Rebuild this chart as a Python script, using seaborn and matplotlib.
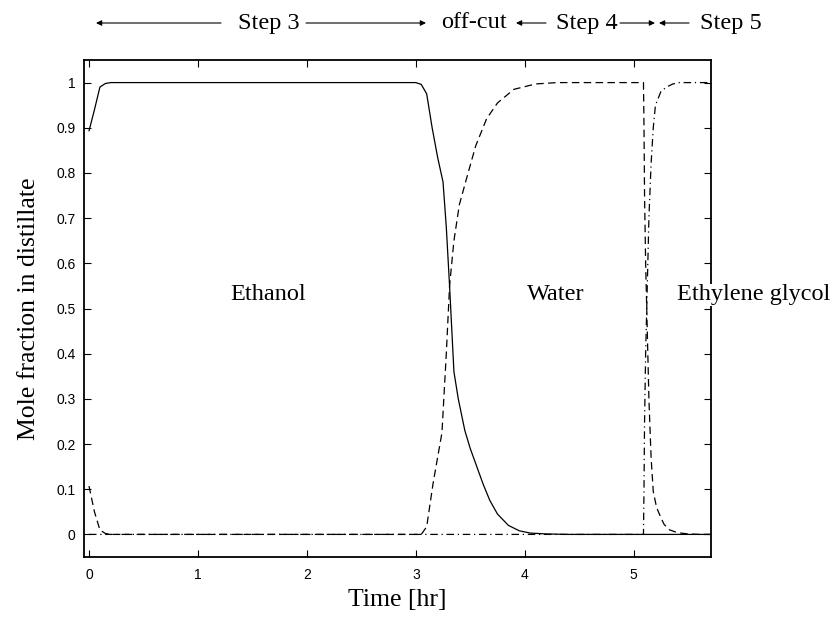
import matplotlib
matplotlib.use("Agg")
import matplotlib.pyplot as plt
import seaborn as sns
import pandas as pd

# ---- data ----
eth_t = [0.0, 0.05, 0.10, 0.15, 0.20, 3.00, 3.05, 3.10, 3.15, 3.20, 3.25, 3.28, 3.31,
         3.35, 3.39, 3.45, 3.50, 3.56, 3.62, 3.68, 3.75, 3.85, 3.95, 4.05, 4.20, 4.40, 5.71]
eth_y = [0.893, 0.94, 0.990, 0.998, 1.0, 1.0, 0.996, 0.975, 0.90, 0.835, 0.78, 0.68, 0.55,
         0.36, 0.30, 0.23, 0.19, 0.15, 0.11, 0.075, 0.045, 0.02, 0.008, 0.003, 0.001, 0.0, 0.0]

wat_t = [0.0, 0.05, 0.10, 0.15, 0.20, 3.05, 3.10, 3.16, 3.24, 3.28, 3.31, 3.35, 3.40, 3.48,
         3.55, 3.65, 3.75, 3.90, 4.10, 4.30, 5.09, 5.095, 5.10, 5.11, 5.12, 5.13, 5.14, 5.16,
         5.18, 5.21, 5.25, 5.28, 5.33, 5.40, 5.50, 5.60, 5.71]
wat_y = [0.107, 0.05, 0.01, 0.002, 0.0, 0.0, 0.017, 0.115, 0.225, 0.40, 0.55, 0.65, 0.73, 0.80,
         0.86, 0.92, 0.955, 0.985, 0.997, 1.0, 1.0, 0.9, 0.75, 0.6, 0.5, 0.4, 0.3, 0.17,
         0.095, 0.06, 0.037, 0.022, 0.01, 0.004, 0.001, 0.0, 0.0]

eg_t = [0.0, 5.09, 5.095, 5.10, 5.11, 5.12, 5.13, 5.14, 5.16, 5.18, 5.20, 5.25, 5.30, 5.36, 5.42, 5.71]
eg_y = [0.0, 0.0, 0.1, 0.25, 0.4, 0.5, 0.6, 0.7, 0.82, 0.90, 0.95, 0.98, 0.99, 0.997, 1.0, 1.0]

x_ticks = [0, 1, 2, 3, 4, 5]
y_ticks = [0, 0.1, 0.2, 0.3, 0.4, 0.5, 0.6, 0.7, 0.8, 0.9, 1.0]
y_tick_labels = ["0", "0.1", "0.2", "0.3", "0.4", "0.5", "0.6", "0.7", "0.8", "0.9", "1"]

region_labels = ["Ethanol", "Water", "Ethylene glycol"]
region_x = [1.64, 4.28, 5.40]
region_y = [0.53, 0.53, 0.53]

step_labels = ["Step 3", "off-cut", "Step 4", "Step 5"]

# ---- styling ----
sns.set_theme(style="white")
plt.rcParams["font.family"] = ["Liberation Serif", "DejaVu Serif"]

fig = plt.figure(figsize=(8.4, 6.19), dpi=100)
W, H = 840.0, 619.0
ax = fig.add_axes([84 / W, 1 - 557 / H, (711 - 84) / W, (557 - 60) / H])

df_e = pd.DataFrame({"t": eth_t, "y": eth_y})
df_w = pd.DataFrame({"t": wat_t, "y": wat_y})
df_g = pd.DataFrame({"t": eg_t, "y": eg_y})

sns.lineplot(data=df_e, x="t", y="y", ax=ax, color="black", lw=0.9,
             estimator=None, sort=False)
sns.lineplot(data=df_w, x="t", y="y", ax=ax, color="black", lw=0.9,
             linestyle=(0, (6, 3.5)), estimator=None, sort=False)
sns.lineplot(data=df_g, x="t", y="y", ax=ax, color="black", lw=0.9,
             linestyle=(0, (6, 3, 1, 3)), estimator=None, sort=False)

ax.set_xlim(-0.046, 5.71)
ax.set_ylim(-0.05, 1.05)
ax.set_xticks(x_ticks)
ax.set_xticklabels([str(v) for v in x_ticks])
ax.set_yticks(y_ticks)
ax.set_yticklabels(y_tick_labels)
ax.tick_params(direction="in", length=5, width=0.8, top=True, right=True,
               bottom=True, left=True, colors="black", labelsize=10)
ax.tick_params(axis="x", pad=8)
ax.tick_params(axis="y", pad=6)
for lab in ax.get_xticklabels() + ax.get_yticklabels():
    lab.set_family(["Liberation Sans", "DejaVu Sans"])
for s in ax.spines.values():
    s.set_visible(True)
    s.set_color("black")
    s.set_linewidth(1.3)

ax.set_xlabel("Time [hr]", fontsize=18.5, color="black")
ax.set_ylabel("Mole fraction in distillate", fontsize=18.5, color="black")
ax.xaxis.set_label_coords(0.5, -0.064)
ax.yaxis.set_label_coords(-0.070, 0.5)

for lab, xv, yv in zip(region_labels, region_x, region_y):
    if lab == "Ethylene glycol":
        ax.text(xv, yv, lab, fontsize=17.5, ha="left", va="center", color="black",
                zorder=10, clip_on=False,
                bbox=dict(facecolor="white", edgecolor="none", pad=0.5))
    else:
        ax.text(xv, yv, lab, fontsize=17.5, ha="center", va="center", color="black")

# ---- top step annotation (figure pixels -> fractions) ----
ytop = 1 - 23 / H
step_cx = [269, 474, 587, 731]
for lab, cx in zip(step_labels, step_cx):
    fig.text(cx / W, ytop, lab, fontsize=17.5, ha="center", va="center", color="black")

arrows = [(221, 96), (306, 426), (546, 516), (620, 655), (689, 659)]
for x0, x1 in arrows:
    ax.annotate("", xy=(x1 / W, ytop), xytext=(x0 / W, ytop),
                xycoords="figure fraction", textcoords="figure fraction",
                arrowprops=dict(arrowstyle="-|>", lw=0.8, color="black",
                                mutation_scale=8, shrinkA=0, shrinkB=0))

fig.savefig("out.png", dpi=100, facecolor="white")
